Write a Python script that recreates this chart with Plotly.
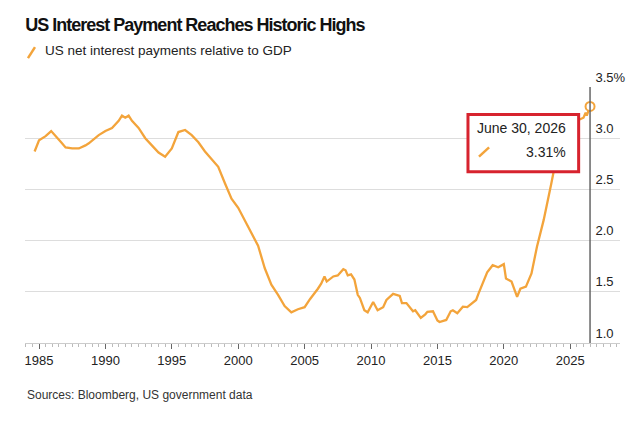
import plotly.graph_objects as go

# US net interest payments relative to GDP (%)
dates = [
    "1984-09", "1985-01", "1985-07", "1985-12", "1986-09", "1987-01", "1987-07",
    "1988-01", "1988-07", "1988-10", "1989-07", "1990-01", "1990-07", "1991-01",
    "1991-04", "1991-07", "1991-10", "1992-01", "1992-07", "1993-01", "1993-07",
    "1994-01", "1994-07", "1995-01", "1995-07", "1996-01", "1996-07", "1997-01",
    "1997-07", "1998-01", "1998-07", "1999-01", "1999-07", "2000-01", "2000-07",
    "2001-01", "2001-07", "2002-01", "2002-07", "2003-01", "2003-07", "2004-01",
    "2004-07", "2005-01", "2005-06", "2006-01", "2006-04", "2006-07", "2006-09",
    "2007-03", "2007-07", "2007-12", "2008-02", "2008-04", "2008-07", "2008-10",
    "2009-01", "2009-03", "2009-07", "2009-10", "2010-01", "2010-03", "2010-07",
    "2010-12", "2011-03", "2011-09", "2012-03", "2012-05", "2012-09", "2013-03",
    "2013-05", "2013-10", "2014-02", "2014-04", "2014-09", "2015-01", "2015-03",
    "2015-09", "2016-01", "2016-03", "2016-07", "2016-12", "2017-04", "2017-12",
    "2018-02", "2018-07", "2018-10", "2019-03", "2019-08", "2020-01", "2020-03",
    "2020-08", "2021-01", "2021-04", "2021-09", "2022-02", "2022-07", "2023-01",
    "2023-05", "2023-08", "2023-12", "2024-07", "2025-01", "2025-07", "2026-01",
    "2026-03", "2026-04", "2026-06-30",
]
values = [
    2.87, 2.98, 3.02, 3.07, 2.96, 2.91, 2.90,
    2.90, 2.93, 2.95, 3.03, 3.07, 3.10, 3.17,
    3.22, 3.20, 3.22, 3.17, 3.10, 3.00, 2.93,
    2.86, 2.82, 2.90, 3.06, 3.08, 3.03, 2.96,
    2.87, 2.79, 2.72, 2.56, 2.41, 2.32, 2.20,
    2.08, 1.95, 1.73, 1.57, 1.47, 1.36, 1.30,
    1.33, 1.35, 1.43, 1.53, 1.58, 1.65, 1.60,
    1.65, 1.66, 1.72, 1.71, 1.66, 1.67, 1.62,
    1.47, 1.44, 1.32, 1.30, 1.37, 1.40, 1.32,
    1.35, 1.42, 1.48, 1.46, 1.39, 1.39, 1.31,
    1.32, 1.245, 1.28, 1.305, 1.31, 1.22, 1.205,
    1.225, 1.31, 1.32, 1.29, 1.355, 1.35, 1.42,
    1.48, 1.61, 1.69, 1.76, 1.74, 1.77, 1.63,
    1.60, 1.45, 1.53, 1.55, 1.68, 1.94, 2.20,
    2.39, 2.56, 2.78, 2.98, 3.10, 3.17, 3.20,
    3.25, 3.22, 3.31,
]
y_ticks = [1.0, 1.5, 2.0, 2.5, 3.0, 3.5]
y_labels = ["1.0", "1.5", "2.0", "2.5", "3.0", "3.5%"]

orange = "#f3a43b"
font = "Liberation Sans"

fig = go.Figure()
fig.add_trace(go.Scatter(x=dates, y=values, mode="lines",
                         line=dict(color=orange, width=2.3), showlegend=False))
# last point marker
fig.add_trace(go.Scatter(x=[dates[-1]], y=[values[-1]], mode="markers",
                         marker=dict(symbol="circle", size=9, color="white",
                                     line=dict(color=orange, width=2)),
                         showlegend=False))

# crosshair at the last point
fig.add_shape(type="line", xref="x", yref="y", x0=dates[-1], x1=dates[-1],
              y0=y_ticks[0], y1=y_ticks[-1], line=dict(color="#666", width=1.5))

# tooltip box with red highlight
fig.add_shape(type="rect", xref="paper", yref="paper", layer="above",
              x0=0.7445, x1=0.9305, y0=0.669, y1=0.893,
              fillcolor="white", line=dict(color="#d7232e", width=3))
fig.add_shape(type="line", xref="paper", yref="paper", layer="above",
              x0=0.763, x1=0.780, y0=0.728, y1=0.764,
              line=dict(color=orange, width=2.5))
fig.add_annotation(xref="paper", yref="paper", x=0.9126, y=0.840,
                   xanchor="right", yanchor="middle",
                   showarrow=False, text="June 30, 2026",
                   font=dict(family=font, size=14, color="#222"))
fig.add_annotation(xref="paper", yref="paper", x=0.9126, y=0.747,
                   xanchor="right", yanchor="middle",
                   showarrow=False, text=f"{values[-1]:.2f}%",
                   font=dict(family=font, size=14, color="#222"))

# legend entry
fig.add_shape(type="line", xref="paper", yref="paper",
              x0=0.005, x1=0.0168, y0=1.113, y1=1.156,
              line=dict(color=orange, width=2.5))
fig.add_annotation(xref="paper", yref="paper", x=0.031, y=1.1445,
                   xanchor="left", yanchor="middle",
                   showarrow=False, text="US net interest payments relative to GDP",
                   font=dict(family=font, size=13.5, color="#222"))

fig.add_annotation(xref="paper", yref="paper", x=0.0, y=-0.203,
                   xanchor="left", yanchor="middle",
                   showarrow=False, text="Sources: Bloomberg, US government data",
                   font=dict(family=font, size=12, color="#333"))

fig.update_layout(
    width=633, height=426,
    margin=dict(l=25, r=13, t=87, b=83, autoexpand=False),
    paper_bgcolor="white", plot_bgcolor="white",
    title=dict(text="<span style='letter-spacing:-1px'><b>US Interest Payment Reaches Historic Highs</b></span>",
               x=0.040, xanchor="left", y=0.941, yanchor="middle",
               font=dict(family=font, size=18, color="#111")),
    font=dict(family=font, size=13, color="#222"),
    xaxis=dict(type="date", range=["1983-12-12", "2028-10-01"], automargin=False,
               tick0="1985-01-01", dtick="M60", tickformat="%Y",
               ticks="outside", ticklen=5, tickcolor="#666", tickwidth=1.2,
               showline=True, linecolor="#ccc", linewidth=1.2,
               showgrid=False, zeroline=False,
               minor=dict(dtick="M6", ticks="outside", ticklen=3,
                          tickcolor="#bbb", showgrid=False),
               tickfont=dict(size=13, color="#222")),
    yaxis=dict(range=[y_ticks[0], y_ticks[-1]], tickvals=y_ticks, ticktext=y_labels,
               side="right", anchor="free", position=0.957, automargin=False,
               showgrid=True, gridcolor="#ddd", gridwidth=1,
               zeroline=False, showline=False, ticks="",
               ticklabelshift=-10, ticklabeloverflow="allow",
               tickfont=dict(size=13, color="#222")),
)

fig.write_html("out.html", config={"displayModeBar": False},
               post_script="document.body.style.margin='0';")
